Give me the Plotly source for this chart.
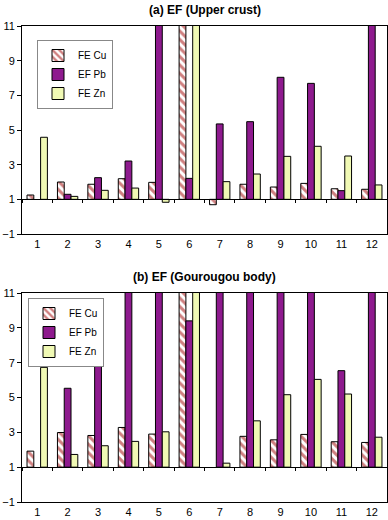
import plotly.graph_objects as go

categories = [str(i) for i in range(1, 13)]

# (a) EF relative to upper crust
upper_cu = [1.25, 2.0, 1.87, 2.19, 1.98, 14.0, 0.69, 1.87, 1.71, 1.92, 1.61, 1.58]
upper_pb = [None, 1.29, 2.25, 3.21, 14.0, 2.21, 5.35, 5.48, 8.04, 7.69, 1.5, 14.0]
upper_zn = [4.58, 1.17, 1.52, 1.65, 0.83, 14.0, 2.02, 2.46, 3.48, 4.06, 3.5, 1.83]

# (b) EF relative to Gourougou body
gour_cu = [1.92, 2.99, 2.82, 3.28, 2.9, 14.0, None, 2.77, 2.57, 2.88, 2.46, 2.42]
gour_pb = [None, 5.53, 9.66, 14.0, 14.0, 9.4, 14.0, 14.0, 14.0, 14.0, 6.54, 14.0]
gour_zn = [6.73, 1.73, 2.23, 2.48, 3.03, 14.0, 1.23, 3.66, 5.16, 6.04, 5.2, 2.72]

series_names = ["FE Cu", "EF Pb", "FE Zn"]
y_ticks = [-1, 1, 3, 5, 7, 9, 11]
BASE = 1

FONT = "Liberation Sans, Arial, sans-serif"
CU_FG = "#a00000"
PB_COLOR = "#8e1a8e"
ZN_COLOR = "#f0f9b4"

W, H = 388, 520
ML, MR, MT, MB = 22, 1, 26, 18
ph = H - MT - MB
top_dom = [(502 - 234) / ph, 1.0]
bot_dom = [0.0, (502 - 293) / ph]


def heights(vals):
    return [None if v is None else v - BASE for v in vals]


fig = go.Figure()


def add_panel(cu, pb, zn, xa, ya, legend):
    styles = [
        dict(color="white", line=dict(color="black", width=1),
             pattern=dict(shape="\\", fgcolor=CU_FG, bgcolor="white", size=6, solidity=0.5)),
        dict(color=PB_COLOR, line=dict(color="black", width=1)),
        dict(color=ZN_COLOR, line=dict(color="black", width=1)),
    ]
    for name, vals, st in zip(series_names, [cu, pb, zn], styles):
        fig.add_trace(go.Bar(x=categories, y=heights(vals), base=BASE, name=name,
                             marker=st, xaxis=xa, yaxis=ya, legend=legend,
                             hovertext=[str(v) for v in vals]))


add_panel(upper_cu, upper_pb, upper_zn, "x", "y", "legend")
add_panel(gour_cu, gour_pb, gour_zn, "x2", "y2", "legend2")

# invisible traces carrying categories for the baseline (y=1) axes
fig.add_trace(go.Scatter(x=categories, y=[BASE] * 12, xaxis="x3", yaxis="y",
                         mode="markers", marker=dict(opacity=0), showlegend=False,
                         hoverinfo="skip"))
fig.add_trace(go.Scatter(x=categories, y=[BASE] * 12, xaxis="x4", yaxis="y2",
                         mode="markers", marker=dict(opacity=0), showlegend=False,
                         hoverinfo="skip"))

yr = [-1, 11]
frac1 = (BASE - yr[0]) / (yr[1] - yr[0])

xcommon = dict(type="category", categoryarray=categories, range=[-0.5, 11.5],
               showline=True, mirror=True, linecolor="black", linewidth=1,
               showgrid=False, zeroline=False, ticks="",
               tickfont=dict(family=FONT, size=11, color="black"))
ycommon = dict(range=yr, tickvals=y_ticks, showline=True, mirror=True,
               linecolor="black", linewidth=1, showgrid=False, zeroline=False,
               ticks="outside", ticklen=4, tickcolor="black",
               tickfont=dict(family=FONT, size=11, color="black"))
baseaxis = dict(type="category", categoryarray=categories, range=[-0.5, 11.5],
                showline=True, linecolor="black", linewidth=1, ticks="outside",
                tickson="boundaries", ticklen=3, tickcolor="black",
                showticklabels=False, showgrid=False, zeroline=False, anchor="free")

legend_common = dict(xanchor="left", yanchor="top", bgcolor="white",
                     bordercolor="#888888", borderwidth=1, itemwidth=30,
                     font=dict(family=FONT, size=10), tracegroupgap=0)

fig.update_layout(
    width=W, height=H,
    margin=dict(l=ML, r=MR, t=MT, b=MB),
    paper_bgcolor="white", plot_bgcolor="white",
    barmode="group", bargap=0.33, bargroupgap=0,
    font=dict(family=FONT, size=11, color="black"),
    xaxis=dict(**xcommon, anchor="y"),
    yaxis=dict(**ycommon, domain=top_dom, anchor="x"),
    xaxis2=dict(**xcommon, anchor="y2"),
    yaxis2=dict(**ycommon, domain=bot_dom, anchor="x2"),
    xaxis3=dict(**baseaxis, overlaying="x",
                position=top_dom[0] + (top_dom[1] - top_dom[0]) * frac1),
    xaxis4=dict(**baseaxis, overlaying="x2",
                position=bot_dom[0] + (bot_dom[1] - bot_dom[0]) * frac1),
    legend=dict(**legend_common, x=(37 - ML) / (W - ML - MR), y=(502 - 40) / ph),
    legend2=dict(**legend_common, x=(28 - ML) / (W - ML - MR), y=(502 - 298) / ph),
    annotations=[
        dict(text="<b>(a) EF (Upper crust)</b>", xref="paper", yref="paper",
             x=0.5, y=(502 - 10) / ph, xanchor="center", yanchor="middle",
             showarrow=False, font=dict(family=FONT, size=12, color="black")),
        dict(text="<b>(b) EF (Gourougou body)</b>", xref="paper", yref="paper",
             x=0.5, y=(502 - 277) / ph, xanchor="center", yanchor="middle",
             showarrow=False, font=dict(family=FONT, size=12, color="black")),
    ],
)

fig.write_html("out.html", config={"displayModeBar": False},
               post_script="document.body.style.margin='0';")
